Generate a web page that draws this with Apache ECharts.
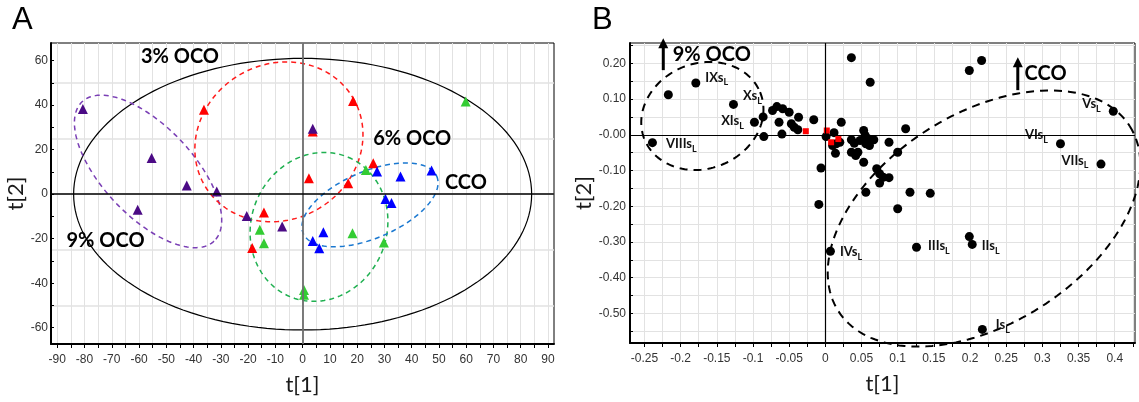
<!DOCTYPE html>
<html><head><meta charset="utf-8">
<script src="https://cdn.jsdelivr.net/npm/echarts@6/dist/echarts.min.js"></script>
<style>html,body{margin:0;padding:0;background:#fff}#c{width:1139px;height:402px}</style>
</head><body><div id="c"></div>
<script>
// ---------- Panel A : scores t[1], t[2] ----------
const aGreen  = [[59.8,41.6],[23.2,10.9],[-15.7,-16.0],[-14.2,-22.0],[18.3,-17.5],[29.8,-21.7],[0.5,-43.0],[0.5,-45.2]];
const aRed    = [[-36.2,37.9],[18.5,41.9],[3.7,28.1],[25.9,13.9],[2.3,7.2],[16.7,4.9],[-14.2,-8.2],[-18.5,-24.2]];
const aBlue   = [[27.3,10.2],[35.9,7.9],[47.3,10.6],[30.4,-2.2],[32.6,-4.0],[7.6,-17.1],[3.7,-21.0],[6.1,-24.3]];
const aPurple = [[-80.6,38.2],[-55.4,16.2],[-42.5,3.9],[-31.5,1.2],[-60.5,-7.0],[-20.5,-9.8],[-7.5,-14.5],[3.7,29.4]];
// ellipses: centre (t1,t2) and two conjugate semi-axis vectors
const aEllipses = [
  [0,0, 84,0, 0,61],                         // Hotelling T2
  [-56.7,10.2, 24.2,-31.3, -12.0,-13.9],     // 9% OCO
  [-8.7,23.5, 27.1,19.9, 14.7,-29.9],        // 3% OCO
  [6.0,-14.7, 10.7,31.3, 22.9,-11.8],        // 6% OCO
  [24.7,-4.8, 24.5,12.8, 4.8,-13.8]          // CCO
];
const aTexts = [[-45,61.7,'3% OCO'],[40.2,24.8,'6% OCO'],[59.9,5.1,'CCO'],[-72.3,-20.8,'9% OCO']];
const aXTicks  = [-90,-85,-80,-75,-70,-65,-60,-55,-50,-45,-40,-35,-30,-25,-20,-15,-10,-5,0,5,10,15,20,25,30,35,40,45,50,55,60,65,70,75,80,85,90];
const aXLabels = [-90,-80,-70,-60,-50,-40,-30,-20,-10,0,10,20,30,40,50,60,70,80,90];
const aYTicks  = [-60,-50,-40,-30,-20,-10,0,10,20,30,40,50,60];
const aYLabels = [-60,-40,-20,0,20,40,60];
const aYGrid   = [-50,-25,0,25,50];

// ---------- Panel B : loadings ----------
const bPoints = [
  [-0.217,0.112,''],[-0.179,0.145,'IXs'],[-0.239,-0.022,'VIIIs'],[-0.127,0.085,'Xs'],[-0.098,0.035,'XIs'],
  [-0.086,0.050,''],[-0.085,-0.005,''],[-0.073,0.068,''],[-0.067,0.079,''],[-0.059,0.073,''],[-0.050,0.063,''],
  [-0.064,0.035,''],[-0.060,0.002,''],[-0.047,0.031,''],[-0.043,0.021,''],[-0.037,0.049,''],[-0.038,0.014,''],[-0.016,0.042,''],
  [0.001,-0.005,''],[0.012,0.006,''],[0.010,-0.030,''],[0.015,-0.025,''],[0.020,-0.021,''],[0.014,-0.052,''],[0.022,0.035,''],
  [-0.006,-0.093,''],[-0.009,-0.195,''],[0.036,0.216,''],[0.062,0.147,''],
  [0.036,-0.014,''],[0.040,-0.024,''],[0.036,-0.049,''],[0.042,-0.058,''],[0.045,-0.049,''],[0.048,-0.016,''],
  [0.053,0.012,''],[0.055,-0.002,''],[0.059,-0.011,''],[0.056,-0.025,''],[0.061,-0.030,''],[0.067,-0.014,''],
  [0.053,-0.077,''],[0.071,-0.095,''],[0.075,-0.109,''],[0.080,-0.119,''],[0.088,-0.120,''],[0.075,-0.135,''],
  [0.088,-0.021,''],[0.100,-0.049,''],[0.111,0.017,''],[0.056,-0.161,''],[0.117,-0.161,''],[0.100,-0.207,''],[0.145,-0.164,''],
  [0.199,0.180,''],[0.216,0.208,''],
  [0.398,0.066,'Vs'],[0.325,-0.025,'VIs'],[0.381,-0.082,'VIIs'],[0.126,-0.315,'IIIs'],[0.199,-0.285,''],
  [0.203,-0.307,'IIs'],[0.217,-0.545,'Is'],[0.007,-0.326,'IVs']
];
const bRed = [[-0.027,0.010],[0.002,0.012],[0.008,-0.021],[0.018,-0.012]];
const bEllipses = [
  [-0.170,0.0527, 0.0798,0.0665, 0.0277,-0.1359],   // 9% OCO
  [0.2193,-0.2345, 0.2015,0.2586, 0.0779,-0.2484]   // CCO
];
const bArrows = [[-0.224,0.181,0.270],[0.266,0.125,0.217]];
const bTexts = [[-0.157,0.226,'9% OCO'],[0.3044,0.172,'CCO']];
const bXTicks  = [-0.25,-0.225,-0.2,-0.175,-0.15,-0.125,-0.1,-0.075,-0.05,-0.025,0,0.025,0.05,0.075,0.1,0.125,0.15,0.175,0.2,0.225,0.25,0.275,0.3,0.325,0.35,0.375,0.4,0.425];
const bXLabels = [-0.25,-0.2,-0.15,-0.1,-0.05,0,0.05,0.1,0.15,0.2,0.25,0.3,0.35,0.4];
const bYTicks  = [-0.55,-0.5,-0.45,-0.4,-0.35,-0.3,-0.25,-0.2,-0.15,-0.1,-0.05,0,0.05,0.1,0.15,0.2,0.25];
const bYLabels = [-0.5,-0.4,-0.3,-0.2,-0.1,0,0.1,0.2];

// ---------- styles ----------
const aEllStyle = [
  {color:'#000', width:1.2, dash:null},
  {color:'#7a3fb5', width:1.5, dash:[5,4]},
  {color:'#ff1a1a', width:1.5, dash:[5,4]},
  {color:'#1fb050', width:1.5, dash:[5,4]},
  {color:'#1a78d0', width:1.5, dash:[5,4]}
];
const bEllStyle = [{color:'#000', width:2, dash:[8,6]},{color:'#000', width:2, dash:[8,6]}];
const labelPlace = {IXs:['right',[0,-4]], Xs:['right',[0,-7]], XIs:['left',[-1,0]], VIIIs:['right',[4,3]],
  Vs:['left',[-3,-6]], VIs:['left',[-3,-7]], VIIs:['left',[-3,-2]], IIIs:['right',[2,0]],
  IIs:['right',[0,3]], Is:['right',[4,-3]], IVs:['right',[0,2]]};

const tickFont = {fontFamily:"'Liberation Sans Narrow','Liberation Sans',Arial,sans-serif", fontSize:12, color:'#333'};
const nameFont = {fontFamily:'Lato, "Open Sans", sans-serif', fontSize:22, color:'#1a1a1a'};
const boldFont = 'Lato, "Open Sans", sans-serif';

function ellipseRenderer(styles){
  return function(params, api){
    const cx=api.value(0), cy=api.value(1), ux=api.value(2), uy=api.value(3), vx=api.value(4), vy=api.value(5);
    const pts=[];
    for(let k=0;k<=160;k++){
      const t=k/160*2*Math.PI, c=Math.cos(t), s=Math.sin(t);
      pts.push(api.coord([cx+ux*c+vx*s, cy+uy*c+vy*s]));
    }
    const st=styles[params.dataIndex];
    return {type:'polyline', shape:{points:pts}, style:{stroke:st.color, lineWidth:st.width, lineDash:st.dash, fill:null}};
  };
}
function arrowRenderer(params, api){
  const p0=api.coord([api.value(0),api.value(1)]), p1=api.coord([api.value(0),api.value(2)]);
  const hh=10, hw=5;
  return {type:'group', children:[
    {type:'line', shape:{x1:p0[0],y1:p0[1],x2:p1[0],y2:p1[1]+hh-1}, style:{stroke:'#000', lineWidth:3}},
    {type:'polygon', shape:{points:[[p1[0],p1[1]],[p1[0]-hw,p1[1]+hh],[p1[0]+hw,p1[1]+hh]]}, style:{fill:'#000'}}
  ]};
}
function fmtB(v){ return Math.abs(v)<1e-9 ? '-0.00' : v.toFixed(2); }

function valueAxis(gi, min, max, ticks, labels, extra){
  return Object.assign({
    gridIndex:gi, type:'value', min:min, max:max,
    axisLine:{show:true, onZero:false, lineStyle:{color:'#000', width:2}},
    axisTick:{show:true, customValues:ticks, length:4, lineStyle:{color:'#000', width:1}},
    axisLabel:Object.assign({customValues:labels, margin:10}, tickFont),
    splitLine:{show:true, lineStyle:{color:'#e2e2e2', width:1}},
    nameLocation:'middle', nameTextStyle:nameFont
  }, extra||{});
}

const chart = echarts.init(document.getElementById('c'), null, {width:1139, height:402});
const option = {
  animation:false,
  backgroundColor:'#fff',
  grid:[
    {left:51, top:43, width:503, height:301, show:true, borderColor:'#000', borderWidth:1},
    {left:630, top:43, width:505, height:300, show:true, borderColor:'#000', borderWidth:1}
  ],
  xAxis:[
    valueAxis(0, -92.3, 92.2, aXTicks, aXLabels, {name:'t[1]', nameGap:30}),
    valueAxis(1, -0.27, 0.428, bXTicks, bXLabels, {name:'t[1]', nameGap:30})
  ],
  yAxis:[
    valueAxis(0, -67.3, 67.9, aYTicks, aYLabels, {name:'t[2]', nameGap:18, splitLine:{show:false},
      axisTick:{show:true, inside:true, customValues:aYTicks, length:3, lineStyle:{color:'#000'}},
      axisLabel:Object.assign({customValues:aYLabels, margin:3}, tickFont)}),
    {gridIndex:0, type:'value', min:-67.3, max:67.9, position:'right',
      axisLine:{show:false}, axisLabel:{show:false}, axisTick:{show:false, customValues:aYGrid},
      splitLine:{show:true, lineStyle:{color:'#e2e2e2', width:1.5}}},
    valueAxis(1, -0.583, 0.257, bYTicks, bYLabels, {name:'t[2]', nameGap:20,
      axisTick:{show:true, inside:true, customValues:bYTicks, length:3, lineStyle:{color:'#000'}},
      axisLabel:Object.assign({customValues:bYLabels, margin:4, formatter:fmtB}, tickFont)})
  ],
  graphic:[
    {type:'text', left:12, top:5, style:{text:'A', font:'31px "Liberation Sans", Arial, sans-serif', fill:'#000'}},
    {type:'text', left:592, top:5, style:{text:'B', font:'31px "Liberation Sans", Arial, sans-serif', fill:'#000'}}
  ],
  series:[
    // zero lines A
    {type:'scatter', xAxisIndex:0, yAxisIndex:0, data:[], z:1, silent:true,
     markLine:{silent:true, symbol:'none', label:{show:false}, animation:false,
       data:[{xAxis:0, lineStyle:{color:'#6e6e6e', width:1.8, type:'solid'}},
             {yAxis:0, lineStyle:{color:'#000', width:1.5, type:'solid'}}]}},
    {type:'custom', xAxisIndex:0, yAxisIndex:0, z:2, silent:true, renderItem:ellipseRenderer(aEllStyle),
     data:aEllipses, encode:{x:0, y:1}},
    {type:'scatter', xAxisIndex:0, yAxisIndex:0, z:3, symbol:'triangle', symbolSize:[10,10], itemStyle:{color:'#33cc33', opacity:1}, data:aGreen},
    {type:'scatter', xAxisIndex:0, yAxisIndex:0, z:3, symbol:'triangle', symbolSize:[10,10], itemStyle:{color:'#ff0000', opacity:1}, data:aRed},
    {type:'scatter', xAxisIndex:0, yAxisIndex:0, z:3, symbol:'triangle', symbolSize:[10,10], itemStyle:{color:'#0000ff', opacity:1}, data:aBlue},
    {type:'scatter', xAxisIndex:0, yAxisIndex:0, z:3, symbol:'triangle', symbolSize:[10,10], itemStyle:{color:'#4b0a85', opacity:1}, data:aPurple},
    {type:'scatter', xAxisIndex:0, yAxisIndex:0, z:4, symbolSize:0, silent:true, itemStyle:{opacity:1},
     data:aTexts.map(d=>({value:[d[0],d[1]], name:d[2]})),
     label:{show:true, position:'inside', formatter:p=>p.name, fontFamily:boldFont, fontWeight:'bold', fontSize:20, color:'#000', opacity:1}},
    // zero lines B
    {type:'scatter', xAxisIndex:1, yAxisIndex:2, data:[], z:1, silent:true,
     markLine:{silent:true, symbol:'none', label:{show:false}, animation:false,
       data:[{xAxis:0, lineStyle:{color:'#000', width:1.2, type:'solid'}},
             {yAxis:0, lineStyle:{color:'#000', width:1.2, type:'solid'}}]}},
    {type:'custom', xAxisIndex:1, yAxisIndex:2, z:2, silent:true, renderItem:ellipseRenderer(bEllStyle),
     data:bEllipses, encode:{x:0, y:1}},
    {type:'scatter', xAxisIndex:1, yAxisIndex:2, z:3, symbol:'circle', symbolSize:9, itemStyle:{color:'#000', opacity:1},
     data:bPoints.map(d=>{
       const item={value:[d[0],d[1]], name:d[2]};
       if(d[2]){ const lp=labelPlace[d[2]]; item.label={show:true, position:lp[0], offset:lp[1]}; }
       return item;
     }),
     label:{show:false, formatter:p=>'{m|'+p.name+'}{s|L}', distance:5, opacity:1,
       rich:{m:{fontFamily:boldFont, fontWeight:'bold', fontSize:13, color:'#111', verticalAlign:'bottom', padding:[0,0,3,0]},
             s:{fontFamily:boldFont, fontWeight:'bold', fontSize:9, color:'#111', verticalAlign:'bottom'}}}},
    {type:'scatter', xAxisIndex:1, yAxisIndex:2, z:4, symbol:'rect', symbolSize:6, itemStyle:{color:'#ff0000', opacity:1}, data:bRed},
    {type:'custom', xAxisIndex:1, yAxisIndex:2, z:5, silent:true, renderItem:arrowRenderer, data:bArrows, encode:{x:0, y:1}},
    {type:'scatter', xAxisIndex:1, yAxisIndex:2, z:5, symbolSize:0, silent:true, itemStyle:{opacity:1},
     data:bTexts.map(d=>({value:[d[0],d[1]], name:d[2]})),
     label:{show:true, position:'inside', formatter:p=>p.name, fontFamily:boldFont, fontWeight:'bold', fontSize:20, color:'#000', opacity:1}}
  ]
};
chart.setOption(option);
</script>
</body></html>
